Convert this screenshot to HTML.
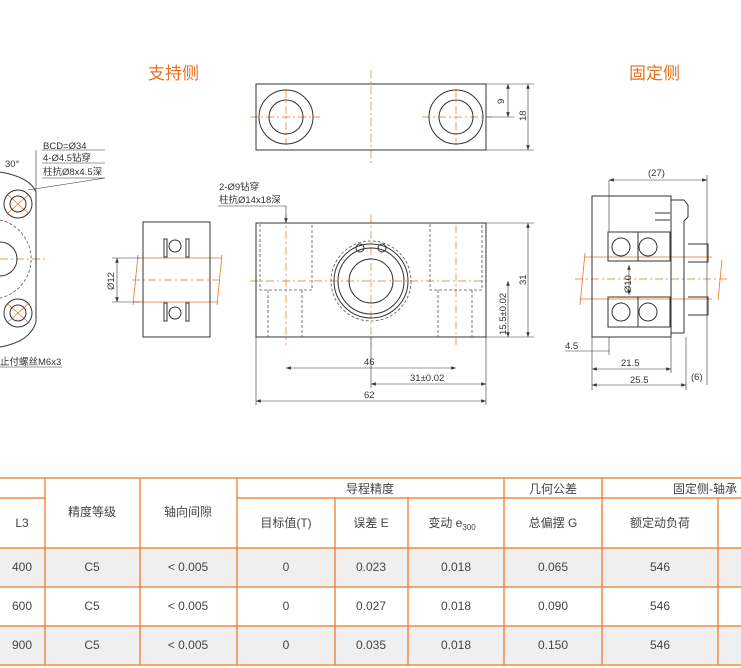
<!DOCTYPE html>
<html><head><meta charset="utf-8"><style>
body{margin:0;background:#fff;width:741px;height:668px;overflow:hidden;font-family:"Liberation Sans","Noto Sans CJK SC",sans-serif}
svg{position:absolute;left:0;top:0}
</style></head><body>
<svg width="741" height="668" viewBox="0 0 741 668" font-family="Liberation Sans, Noto Sans CJK SC, sans-serif">
<defs><marker id="a" markerWidth="8" markerHeight="6" refX="8" refY="3" orient="auto-start-reverse"><path d="M0,0 L8,3 L0,6z" fill="#333"/></marker></defs>
<text x="148" y="79" font-size="17" fill="#e8731f">支持侧</text>
<text x="629" y="79" font-size="17" fill="#e8731f">固定侧</text>
<g stroke="#e8731f" stroke-width="0.7" stroke-dasharray="8 3 2 3" fill="none">
<line x1="371" y1="70" x2="371" y2="165"/><line x1="250" y1="117" x2="320" y2="117"/><line x1="422" y1="117" x2="492" y2="117"/>
<line x1="286" y1="90" x2="286" y2="145"/><line x1="456" y1="90" x2="456" y2="145"/>
<line x1="371" y1="215" x2="371" y2="345"/><line x1="250" y1="281" x2="490" y2="281"/>
<line x1="286" y1="215" x2="286" y2="345"/><line x1="456" y1="225" x2="456" y2="345"/>
<line x1="132" y1="280" x2="222" y2="280"/><line x1="0" y1="259" x2="45" y2="259"/>
<line x1="575" y1="279" x2="728" y2="279"/>
</g>
<g stroke="#e8731f" stroke-width="0.8" fill="none">
<line x1="138" y1="258" x2="222" y2="258"/><line x1="133" y1="302" x2="217" y2="302"/>
<line x1="138" y1="255" x2="133" y2="305"/><line x1="222" y1="255" x2="217" y2="305"/>
<line x1="585" y1="257" x2="712" y2="257"/><line x1="580" y1="299" x2="712" y2="299"/>
<line x1="585" y1="253" x2="580" y2="305"/><line x1="722" y1="260" x2="718" y2="300"/>
<line x1="8" y1="195" x2="28" y2="213"/><line x1="8" y1="213" x2="28" y2="195"/>
<line x1="8" y1="304" x2="28" y2="322"/><line x1="8" y1="322" x2="28" y2="304"/>
</g>
<g stroke="#333" stroke-width="1" fill="none">
<rect x="256" y="84" width="230" height="66"/>
<circle cx="286" cy="117" r="27"/><circle cx="286" cy="117" r="17"/>
<circle cx="456" cy="117" r="27"/><circle cx="456" cy="117" r="17"/>
<rect x="256" y="223" width="230" height="114"/>
<circle cx="371" cy="281" r="37"/><circle cx="371" cy="281" r="33"/><circle cx="371" cy="281" r="22"/>
<circle cx="360" cy="248" r="4"/><circle cx="382" cy="248" r="4"/>
<rect x="143" y="222" width="67" height="115"/>
<circle cx="175" cy="246" r="6"/><circle cx="175" cy="313" r="6"/>
<rect x="164" y="239" width="3" height="18"/><rect x="186" y="239" width="3" height="18"/>
<rect x="164" y="303" width="3" height="18"/><rect x="186" y="303" width="3" height="18"/>
<rect x="592" y="196" width="79" height="141"/>
<rect x="608" y="232" width="62" height="29"/><rect x="608" y="297" width="62" height="30"/>
<line x1="638" y1="232" x2="638" y2="261"/><line x1="638" y1="297" x2="638" y2="327"/>
<circle cx="621" cy="247" r="9"/><circle cx="648" cy="247" r="9"/>
<circle cx="621" cy="312" r="9"/><circle cx="648" cy="312" r="9"/>
<path d="M671 200 h13 l4 5 v12 l-4 4 v112 h-13"/>
<path d="M688 244 h20 v18 h-20 M688 297 h20 v18 h-20"/>
<path d="M655 213 h15 M655 220 h15"/>
<path d="M0 172 q30 5 36 20 v130 q-6 20 -36 25"/>
<circle cx="18" cy="204" r="14"/><circle cx="18" cy="204" r="8"/>
<circle cx="18" cy="313" r="14"/><circle cx="18" cy="313" r="8"/>
<circle cx="0" cy="259" r="17"/>
</g>
<g stroke="#555" stroke-width="0.8" stroke-dasharray="3 2" fill="none">
<circle cx="371" cy="281" r="40"/>
<path d="M260 224 V290 H312 V224 M430 224 V290 H482 V224"/>
<path d="M268 290 V337 M302 290 V337 M438 290 V337 M472 290 V337"/>
<path d="M0 220 A40 40 0 0 1 0 298"/>
</g>
<g stroke="#333" stroke-width="0.6" fill="none">
<line x1="486" y1="84" x2="534" y2="84"/><line x1="486" y1="150" x2="534" y2="150"/><line x1="486" y1="117" x2="514" y2="117"/>
<line x1="508" y1="84" x2="508" y2="117" marker-start="url(#a)" marker-end="url(#a)"/>
<line x1="528" y1="84" x2="528" y2="150" marker-start="url(#a)" marker-end="url(#a)"/>
<line x1="486" y1="223" x2="534" y2="223"/><line x1="486" y1="337" x2="534" y2="337"/>
<line x1="528" y1="223" x2="528" y2="337" marker-start="url(#a)" marker-end="url(#a)"/>
<line x1="508" y1="281" x2="508" y2="337" marker-start="url(#a)" marker-end="url(#a)"/>
<line x1="256" y1="337" x2="256" y2="405"/><line x1="486" y1="337" x2="486" y2="405"/><line x1="371" y1="337" x2="371" y2="388"/>
<line x1="286" y1="368" x2="456" y2="368" marker-start="url(#a)" marker-end="url(#a)"/>
<line x1="371" y1="384" x2="486" y2="384" marker-start="url(#a)" marker-end="url(#a)"/>
<line x1="256" y1="401" x2="486" y2="401" marker-start="url(#a)" marker-end="url(#a)"/>
<line x1="117" y1="258" x2="117" y2="302" marker-start="url(#a)" marker-end="url(#a)"/>
<line x1="112" y1="258" x2="140" y2="258"/><line x1="112" y1="302" x2="140" y2="302"/>
<path d="M218 206 H286 V223" marker-end="url(#a)"/>
<path d="M42 150 H105 M42 163 H105 M42 178 H105 L28 190"/>
<path d="M36 150 V192"/>
<path d="M0 367 H62"/>
<line x1="609" y1="180" x2="707" y2="180" marker-start="url(#a)" marker-end="url(#a)"/>
<line x1="609" y1="180" x2="609" y2="232"/><line x1="707" y1="175" x2="707" y2="385"/>
<line x1="629" y1="265" x2="629" y2="295" marker-start="url(#a)" marker-end="url(#a)"/>
<line x1="592" y1="337" x2="592" y2="390"/><line x1="609" y1="337" x2="609" y2="355"/><line x1="671" y1="337" x2="671" y2="373"/><line x1="686" y1="337" x2="686" y2="390"/>
<line x1="565" y1="351" x2="609" y2="351"/>
<line x1="592" y1="369" x2="671" y2="369" marker-start="url(#a)" marker-end="url(#a)"/>
<line x1="592" y1="385" x2="686" y2="385" marker-start="url(#a)" marker-end="url(#a)"/>
</g>
<g font-size="9.5" fill="#333">
<text x="496" y="104" transform="rotate(-90 500 100)">9</text>
<text x="518" y="121" transform="rotate(-90 522 117)">18</text>
<text x="518" y="285" transform="rotate(-90 522 281)">31</text>
<text x="476" y="313" transform="rotate(-90 502 309)">15.5±0.02</text>
<text x="364" y="365">46</text><text x="410" y="381">31±0.02</text><text x="364" y="398">62</text>
<text x="100" y="284" transform="rotate(-90 110 280)">Ø12</text>
<text x="219" y="190">2-Ø9钻穿</text><text x="219" y="203">柱抗Ø14x18深</text>
<text x="43" y="149">BCD=Ø34</text><text x="43" y="161">4-Ø4.5钻穿</text><text x="43" y="175">柱抗Ø8x4.5深</text>
<text x="5" y="167">30°</text>
<text x="0" y="365">止付螺丝M6x3</text>
<text x="648" y="176">(27)</text>
<text x="613" y="285" transform="rotate(-90 626 280)">Ø10</text>
<text x="565" y="349">4.5</text><text x="621" y="366">21.5</text><text x="630" y="383">25.5</text><text x="691" y="380">(6)</text>
</g>
<rect x="0" y="549" width="741" height="37" fill="#efefef"/>
<rect x="0" y="627" width="741" height="37" fill="#efefef"/>
<g stroke="#e8731f" stroke-width="1.2" fill="none">
<line x1="0" y1="478" x2="741" y2="478"/>
<line x1="0" y1="498" x2="45" y2="498"/><line x1="237" y1="498" x2="741" y2="498"/>
<line x1="0" y1="548" x2="741" y2="548"/><line x1="0" y1="587" x2="741" y2="587"/><line x1="0" y1="626" x2="741" y2="626"/><line x1="0" y1="665" x2="741" y2="665"/>
<line x1="45" y1="478" x2="45" y2="665"/><line x1="140" y1="478" x2="140" y2="665"/><line x1="237" y1="478" x2="237" y2="665"/>
<line x1="335" y1="498" x2="335" y2="665"/><line x1="408" y1="498" x2="408" y2="665"/>
<line x1="504" y1="478" x2="504" y2="665"/><line x1="602" y1="478" x2="602" y2="665"/><line x1="718" y1="498" x2="718" y2="665"/>
</g>
<g font-size="12" fill="#444" text-anchor="middle">
<text x="370" y="493">导程精度</text><text x="553" y="493">几何公差</text><text x="705" y="493">固定侧-轴承</text>
<text x="22" y="527">L3</text><text x="92" y="516">精度等级</text><text x="188" y="516">轴向间隙</text>
<text x="286" y="527">目标值(T)</text><text x="371" y="527">误差 E</text><text x="452" y="527">变动 e<tspan font-size="8" dy="3">300</tspan></text>
<text x="553" y="527">总偏摆 G</text><text x="660" y="527">额定动负荷</text>
<text x="22" y="571">400</text><text x="92" y="571">C5</text><text x="188" y="571">&lt; 0.005</text><text x="286" y="571">0</text><text x="371" y="571">0.023</text><text x="456" y="571">0.018</text><text x="553" y="571">0.065</text><text x="660" y="571">546</text>
<text x="22" y="610">600</text><text x="92" y="610">C5</text><text x="188" y="610">&lt; 0.005</text><text x="286" y="610">0</text><text x="371" y="610">0.027</text><text x="456" y="610">0.018</text><text x="553" y="610">0.090</text><text x="660" y="610">546</text>
<text x="22" y="649">900</text><text x="92" y="649">C5</text><text x="188" y="649">&lt; 0.005</text><text x="286" y="649">0</text><text x="371" y="649">0.035</text><text x="456" y="649">0.018</text><text x="553" y="649">0.150</text><text x="660" y="649">546</text>
</g>
</svg>
</body></html>
